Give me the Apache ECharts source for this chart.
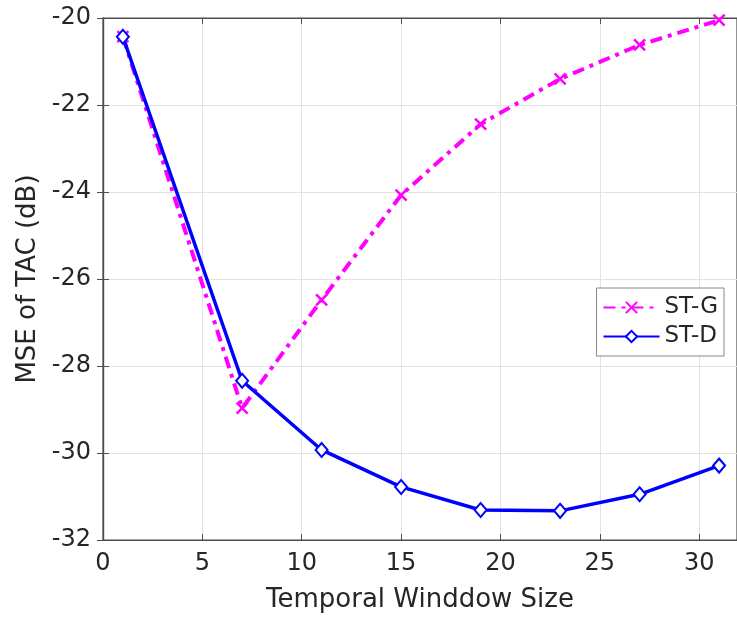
<!DOCTYPE html>
<html>
<head>
<meta charset="utf-8">
<script src="https://cdn.jsdelivr.net/npm/echarts@6/dist/echarts.min.js"></script>
<style>
  html, body { margin: 0; padding: 0; background: #fff; }
  #chart { width: 737px; height: 620px; }
</style>
</head>
<body>
<div id="chart"></div>
<script>
// window sizes
var windowSizes = [1, 7, 11, 15, 19, 23, 27, 31];
// ST-G values (dB)
var stG = [-20.43, -28.97, -26.48, -24.07, -22.44, -21.4, -20.62, -20.05];
// ST-D values (dB)
var stD = [-20.43, -28.34, -29.93, -30.78, -31.31, -31.33, -30.95, -30.29];

var textColor = '#262626';
var axisColor = '#4d4d4d';
var gridColor = '#e3e3e3';
var crossPath = 'path://M0,0L10,10M10,0L0,10';

var chartDom = document.getElementById('chart');
var myChart = echarts.init(chartDom);

var pairs = function (ys) {
    return windowSizes.map(function (x, i) { return [x, ys[i]]; });
};

// the plot box runs past the right edge of the picture
var xMax = 31.9;

var option = {
    animation: false,
    grid: {
        left: 103,
        top: 18,
        right: 0,
        bottom: 80,
        show: true,
        borderColor: axisColor,
        borderWidth: 1.2
    },
    legend: {
        right: 13,
        top: 288,
        orient: 'vertical',
        backgroundColor: '#fff',
        borderColor: '#888',
        borderWidth: 1,
        padding: [8, 6, 8, 6],
        itemGap: 6,
        itemWidth: 56,
        itemHeight: 14,
        textStyle: { fontFamily: 'DejaVu Sans', fontSize: 23, color: textColor },
        data: ['ST-G', 'ST-D']
    },
    xAxis: [{
        type: 'value',
        min: 0,
        max: xMax,
        interval: 5,
        name: 'Temporal Winddow Size',
        nameLocation: 'middle',
        nameGap: 47,
        nameTextStyle: { fontFamily: 'DejaVu Sans', fontSize: 26, color: textColor },
        axisLine: { show: true, lineStyle: { color: axisColor, width: 1.2 } },
        axisTick: { show: true, inside: true, length: 6, lineStyle: { color: axisColor } },
        axisLabel: {
            fontFamily: 'DejaVu Sans', fontSize: 24, color: textColor, margin: 12,
            showMaxLabel: false
        },
        splitLine: { show: true, lineStyle: { color: gridColor, width: 1 } }
    }, {
        type: 'value',
        position: 'top',
        min: 0,
        max: xMax,
        interval: 5,
        axisLine: { show: true, lineStyle: { color: axisColor, width: 1.2 } },
        axisTick: { show: true, inside: true, length: 6, lineStyle: { color: axisColor } },
        axisLabel: { show: false },
        splitLine: { show: false }
    }],
    yAxis: [{
        type: 'value',
        min: -32,
        max: -20,
        interval: 2,
        name: 'MSE of TAC (dB)',
        nameLocation: 'middle',
        nameGap: 62,
        nameTextStyle: { fontFamily: 'DejaVu Sans', fontSize: 26, color: textColor },
        axisLine: { show: true, lineStyle: { color: axisColor, width: 1.2 } },
        axisTick: { show: true, inside: true, length: 6, lineStyle: { color: axisColor } },
        axisLabel: { fontFamily: 'DejaVu Sans', fontSize: 24, color: textColor, margin: 12 },
        splitLine: { show: true, lineStyle: { color: gridColor, width: 1 } }
    }, {
        type: 'value',
        position: 'right',
        min: -32,
        max: -20,
        interval: 2,
        axisLine: { show: true, lineStyle: { color: axisColor, width: 1.2 } },
        axisTick: { show: true, inside: true, length: 6, lineStyle: { color: axisColor } },
        axisLabel: { show: false },
        splitLine: { show: false }
    }],
    series: [
        {
            name: 'ST-G',
            type: 'line',
            data: pairs(stG),
            color: '#ff00ff',
            symbol: crossPath,
            symbolSize: 11,
            showAllSymbol: true,
            lineStyle: { color: '#ff00ff', width: 4, type: [12, 6, 4, 6] },
            itemStyle: { color: '#ff00ff', borderColor: '#ff00ff', borderWidth: 2.5 },
            z: 2
        },
        {
            name: 'ST-D',
            type: 'line',
            data: pairs(stD),
            color: '#0000ff',
            symbol: 'emptyDiamond',
            symbolSize: [12, 14],
            showAllSymbol: true,
            lineStyle: { color: '#0000ff', width: 3.5 },
            itemStyle: { color: '#0000ff', borderColor: '#0000ff', borderWidth: 2.5 },
            z: 3
        }
    ]
};

option && myChart.setOption(option);
</script>
</body>
</html>
